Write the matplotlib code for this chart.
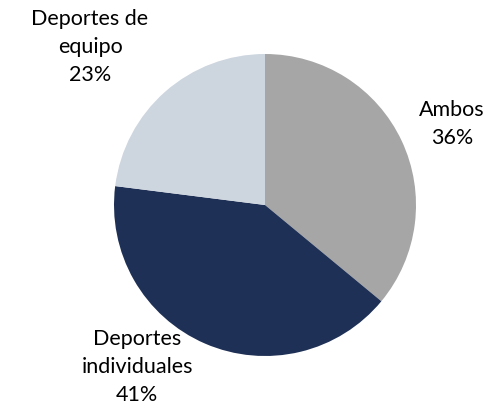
import matplotlib
matplotlib.use("Agg")
import matplotlib.pyplot as plt

categories = ["Ambos", "Deportes\nindividuales", "Deportes de\nequipo"]
shares = [36, 41, 23]
colors = ["#A6A6A6", "#1E3055", "#CDD5DF"]

plt.rcParams["font.family"] = ["Lato", "DejaVu Sans"]

W, H = 490, 404
fig = plt.figure(figsize=(W / 100, H / 100), dpi=100)
ax = fig.add_axes([0, 0, 1, 1])

ax.pie(
    shares,
    colors=colors,
    startangle=90,
    counterclock=False,
    center=(265, H - 205),
    radius=151,
    frame=True,
    wedgeprops={"linewidth": 0},
)
ax.set_xlim(0, W)
ax.set_ylim(0, H)
ax.set_aspect("equal")
ax.axis("off")

label_pos = [(452, H - 124), (137, H - 367), (90, H - 47)]
for cat, val, (x, y) in zip(categories, shares, label_pos):
    ax.text(x, y, f"{cat}\n{val}%", ha="center", va="center",
            fontsize=15.5, color="#000000", linespacing=1.5)

fig.savefig("out.png", dpi=100)
